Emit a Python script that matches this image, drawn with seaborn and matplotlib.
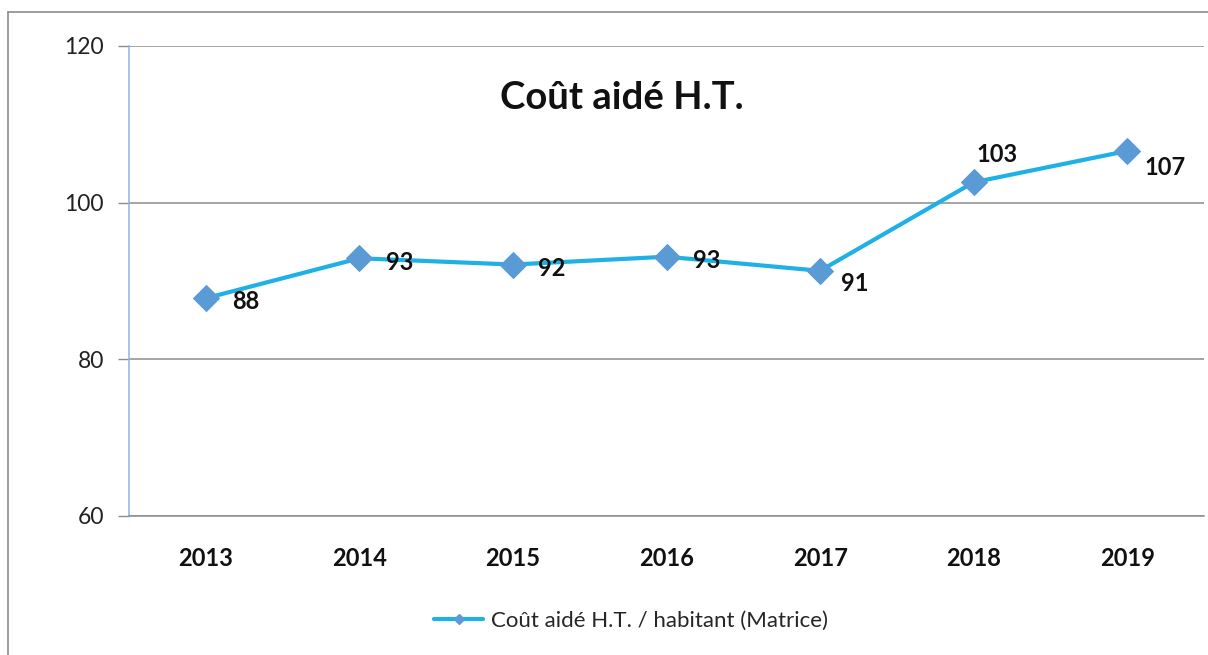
import matplotlib
matplotlib.use("Agg")
import matplotlib.pyplot as plt
import seaborn as sns
import pandas as pd
from matplotlib.lines import Line2D
from matplotlib.ticker import FixedLocator

years = ["2013", "2014", "2015", "2016", "2017", "2018", "2019"]
values = [87.8, 92.9, 92.1, 93.1, 91.3, 102.6, 106.6]
labels = ["88", "93", "92", "93", "91", "103", "107"]
series_name = "Coût aidé H.T. / habitant (Matrice)"
title = "Coût aidé H.T."
yticks = [60, 80, 100, 120]

# label offsets in points (dx, dy)
offsets = [(29, -2), (29, -3), (28, -3), (29, -3), (25, -9), (17, 20), (27, -12)]

sns.set_theme(style="white")
plt.rcParams["font.family"] = ["Lato", "DejaVu Sans"]

df = pd.DataFrame({"year": years, "value": values})

fig = plt.figure(figsize=(12.08, 6.55), dpi=100)
ax = fig.add_axes([129/1208, 1-516/655, (1204-129)/1208, (516-46)/655])

sns.lineplot(data=df, x="year", y="value", ax=ax, color="#1FB0E6", linewidth=3.0,
             marker="D", markersize=13, markerfacecolor="#5B9BD5",
             markeredgecolor="#5B9BD5", label=series_name, legend=False)

ax.set_xlim(-0.5, len(years) - 0.5)
ax.set_ylim(60, 120)
ax.set_yticks(yticks)
ax.set_yticklabels([str(t) for t in yticks], fontsize=16.5, color="#222222")
ax.grid(axis="y", color="#8C8C8C", linewidth=1.1)
ax.grid(axis="x", visible=False)
ax.set_xlabel("")
ax.set_ylabel("")
ax.set_xticks(range(len(years)))
ax.set_xticklabels(years, fontsize=17, fontweight="bold", color="#111111")
ax.xaxis.set_minor_locator(FixedLocator([i - 0.5 for i in range(len(years) + 1)]))
ax.tick_params(axis="x", which="major", length=0, pad=22)
ax.tick_params(axis="x", which="minor", length=8, color="#8C8C8C", width=1, direction="out")
ax.tick_params(axis="y", which="major", length=8, color="#8C8C8C", width=1, direction="out", pad=10, left=True)

for side in ["top", "right"]:
    ax.spines[side].set_visible(False)
ax.spines["left"].set_color("#8DB4E2")
ax.spines["left"].set_linewidth(1.1)
ax.spines["bottom"].set_color("#8C8C8C")
ax.spines["bottom"].set_linewidth(1.1)

for i, (lab, v) in enumerate(zip(labels, values)):
    dx, dy = offsets[i]
    ax.annotate(lab, (i, v), xytext=(dx, dy), textcoords="offset points",
                ha="center", va="center", fontsize=17, fontweight="bold", color="#111111")

ax.text((622-129)/1075, (516-98)/470, title, transform=ax.transAxes, ha="center", va="center",
        fontsize=27.5, fontweight="bold", color="#111111")

handle = Line2D([], [], color="#1FB0E6", linewidth=3.0, marker="D", markersize=5,
                markerfacecolor="#5B9BD5", markeredgecolor="#5B9BD5")
fig.legend([handle], [series_name], loc="center", bbox_to_anchor=(631/1208, 1-621/655),
           frameon=False, fontsize=16, handlelength=2.2, handletextpad=0.35)

# outer chart-area border
fig.add_artist(Line2D([8/1208, 8/1208], [1-12/655, 0], transform=fig.transFigure,
                      color="#8C8C8C", linewidth=1.2))
fig.add_artist(Line2D([8/1208, 1], [1-12/655, 1-12/655], transform=fig.transFigure,
                      color="#8C8C8C", linewidth=1.2))

fig.savefig("out.png", dpi=100)
